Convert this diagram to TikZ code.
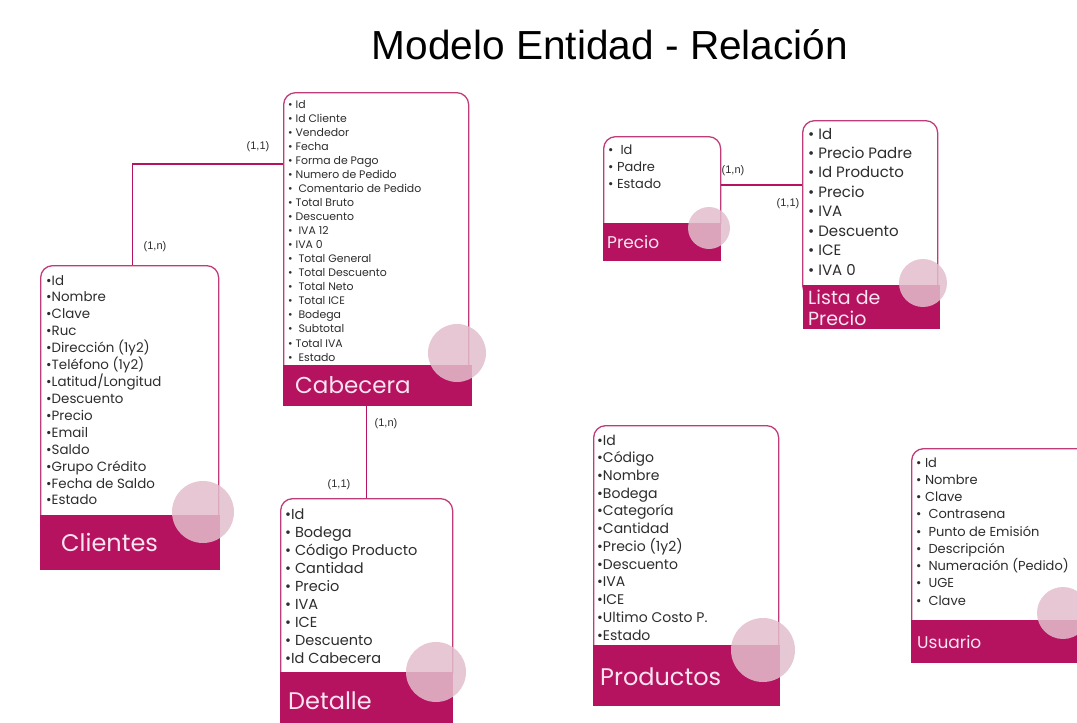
\documentclass[tikz,border=0pt]{standalone}
\usepackage{fontspec}
\setmainfont{Poppins}
\newfontfamily\arialf{Liberation Sans}
\definecolor{mag}{RGB}{181,19,95}
\definecolor{bord}{RGB}{192,60,120}
\definecolor{circ}{RGB}{226,190,204}
\definecolor{txt}{RGB}{45,45,45}
\definecolor{bandtxt}{RGB}{250,228,240}
\newcommand\fs[1]{\fontsize{#1}{#1}\selectfont}
\tikzset{
 ebox/.style={draw=bord, line width=1.3pt, fill=white, rounded corners=12pt, anchor=north west, inner sep=0pt},
 band/.style={fill=mag, draw=none, anchor=north west, inner sep=0pt},
 deco/.style={circle, fill=circ, fill opacity=0.85, draw=none, inner sep=0pt},
 item/.style={anchor=base west, inner sep=0pt, text=txt},
 bandlbl/.style={anchor=base west, inner sep=0pt, text=bandtxt},
 card/.style={inner sep=0pt, font=\arialf\fs{11}, text=txt},
 conn/.style={draw=mag, line width=1.6pt},
}
\begin{document}
\begin{tikzpicture}[x=1pt,y=-1pt]
\useasboundingbox (0,0) rectangle (1077,723);
\clip (0,0) rectangle (1077,723);
% title
\node[anchor=base, inner sep=0pt, font=\arialf\fs{40.6}] (title) at (610,59) {Modelo Entidad - Relación};

% ---------- Clientes
\node[ebox, minimum width=178pt, minimum height=262pt] (cli) at (40,265) {};
\node[band, minimum width=180pt, minimum height=55pt] (cliB) at (39.3,515) {};
\node[deco, minimum size=62pt] (cliC) at (203,512) {};
\foreach \t [count=\i from 0] in {•Id,•Nombre,•Clave,•Ruc,•Dirección (1y2),•Teléfono (1y2),•Latitud/Longitud,•Descuento,•Precio,•Email,•Saldo,•Grupo Crédito,•Fecha de Saldo,•Estado}
  \node[item, font=\fs{13.4}] (cli\i) at (46,{285+\i*16.92}) {\t};
\node[bandlbl, font=\fs{24}] (cliL) at (61,551) {Clientes};

% ---------- Cabecera
\node[ebox, minimum width=185pt, minimum height=285pt] (cab) at (283,92) {};
\node[band, minimum width=189pt, minimum height=41pt] (cabB) at (282.3,365) {};
\node[deco, minimum size=58pt] (cabC) at (457,353) {};
\foreach \t [count=\i from 0] in {• Id,• Id Cliente,• Vendedor,• Fecha,• Forma de Pago,• Numero de Pedido,•\ \ Comentario de Pedido,• Total Bruto,• Descuento,•\ \ IVA 12,• IVA 0,•\ \ Total General,•\ \ Total Descuento,•\ \ Total Neto,•\ \ Total ICE,•\ \ Bodega,•\ \ Subtotal,• Total IVA,•\ \ Estado}
  \node[item, font=\fs{10.9}] (cab\i) at (288,{108+\i*14.06}) {\t};
\node[bandlbl, font=\fs{23}] (cabL) at (295,393) {Cabecera};

% ---------- Detalle
\node[ebox, minimum width=172pt, minimum height=186pt] (det) at (280,498) {};
\node[band, minimum width=173pt, minimum height=60pt] (detB) at (279.3,672) {};
\node[deco, minimum size=60pt] (detC) at (436,672) {};
\foreach \t [count=\i from 0] in {•Id,• Bodega,• Código Producto,• Cantidad,• Precio,• IVA,• ICE,• Descuento,•Id Cabecera}
  \node[item, font=\fs{14.5}] (det\i) at (285,{519+\i*18}) {\t};
\node[bandlbl, font=\fs{24}] (detL) at (288,709) {Detalle};

% ---------- Precio
\node[ebox, minimum width=117pt, minimum height=99pt] (pre) at (603,136) {};
\node[band, minimum width=118pt, minimum height=38pt] (preB) at (602.3,223) {};
\node[deco, minimum size=42pt] (preC) at (709,228) {};
\foreach \t [count=\i from 0] in {•\ \ Id,• Padre,• Estado}
  \node[item, font=\fs{13}] (pre\i) at (608,{154+\i*17}) {\t};
\node[bandlbl, font=\fs{17}] (preL) at (607,248) {Precio};

% ---------- Lista de Precio
\node[ebox, minimum width=135pt, minimum height=177pt] (lis) at (802,120) {};
\node[band, minimum width=137pt, minimum height=44pt] (lisB) at (802.3,285) {};
\node[deco, minimum size=48pt] (lisC) at (923,283) {};
\foreach \t [count=\i from 0] in {• Id,• Precio Padre,• Id Producto,• Precio,• IVA,• Descuento,• ICE,• IVA 0}
  \node[item, font=\fs{15}] (lis\i) at (808,{139+\i*19.43}) {\t};
\node[bandlbl, font=\fs{19}] (lisL1) at (808,304) {Lista de};
\node[bandlbl, font=\fs{19}] (lisL2) at (808,325) {Precio};

% ---------- Productos
\node[ebox, minimum width=185pt, minimum height=232pt] (pro) at (593,425) {};
\node[band, minimum width=187pt, minimum height=61pt] (proB) at (592.3,645) {};
\node[deco, minimum size=64pt] (proC) at (763,650) {};
\foreach \t [count=\i from 0] in {•Id,•Código,•Nombre,•Bodega,•Categoría,•Cantidad,•Precio (1y2),•Descuento,•IVA,•ICE,•Ultimo Costo P.,•Estado}
  \node[item, font=\fs{14}] (pro\i) at (597,{445+\i*17.73}) {\t};
\node[bandlbl, font=\fs{24}] (proL) at (600,685) {Productos};

% ---------- Usuario
\node[ebox, minimum width=180pt, minimum height=184pt] (usu) at (911,448) {};
\node[band, minimum width=182pt, minimum height=43pt] (usuB) at (910.3,620) {};
\node[deco, minimum size=52pt] (usuC) at (1063,613) {};
\foreach \t [count=\i from 0] in {• Id,• Nombre,• Clave,•\ \ Contrasena,•\ \ Punto de Emisión,•\ \ Descripción,•\ \ Numeración (Pedido),•\ \ UGE,•\ \ Clave}
  \node[item, font=\fs{13}] (usu\i) at (916,{467+\i*17.25}) {\t};
\node[bandlbl, font=\fs{17}] (usuL) at (917,648) {Usuario};

% ---------- connectors
\draw[conn] ([xshift=3pt]cli.north) |- ([yshift=-72pt]cab.north west);
\draw[conn] (det.north) -- (det.north |- cabB.south);
\draw[conn] ([yshift=-49pt]pre.north east) -- ([yshift=-49pt]pre.north east -| lis.west);

% ---------- cardinalities
\node[card] (k1) at (258,147) {(1,1)};
\node[card] (k2) at (155,247) {(1,n)};
\node[card] (k3) at (386,424) {(1,n)};
\node[card] (k4) at (339,485) {(1,1)};
\node[card] (k5) at (733,171) {(1,n)};
\node[card] (k6) at (788,204) {(1,1)};
\end{tikzpicture}
\end{document}
